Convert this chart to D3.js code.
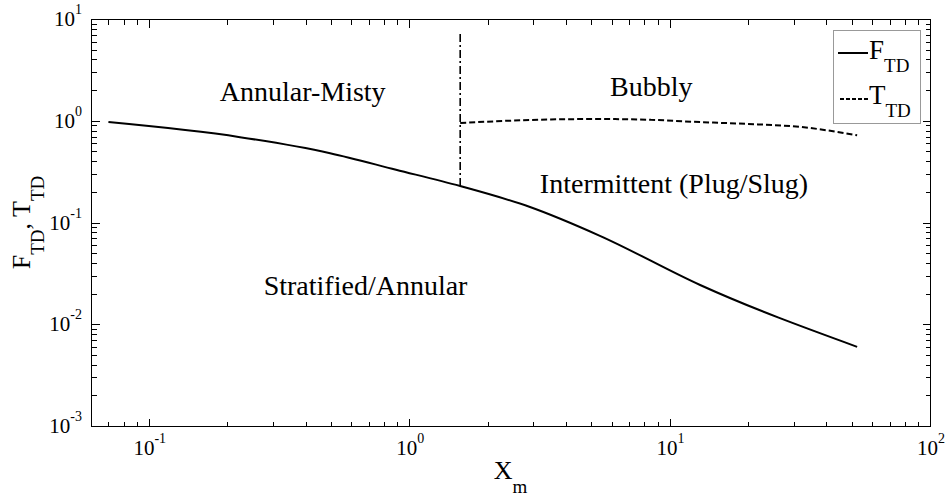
<!DOCTYPE html>
<html>
<head>
<meta charset="utf-8">
<script src="https://cdn.jsdelivr.net/npm/d3@7"></script>
<style>
  html, body { margin: 0; padding: 0; background: #fff; }
  svg { display: block; font-family: "Liberation Serif", "Times New Roman", serif; }
</style>
</head>
<body>
<svg id="chart" width="948" height="502"></svg>
<script>
// Flow-regime map: transition criteria F_TD and T_TD versus Martinelli parameter X_m
const fX = [0.07, 0.224, 0.497, 0.89, 1.57, 2.91, 5.4, 13.1, 52.5];
const fY = [0.97, 0.69, 0.48, 0.33, 0.228, 0.142, 0.074, 0.0243, 0.006];

const tX = [1.57, 2.4, 3.5, 5.4, 8.5, 13.1, 20, 31.7, 52.5];
const tY = [0.95, 1.0, 1.03, 1.04, 1.02, 0.97, 0.93, 0.87, 0.72];

// vertical boundary between annular-misty and bubbly regimes
const boundaryX = [1.57, 1.57];
const boundaryY = [0.228, 7.45];

const xDomain = [0.06, 100];
const yDomain = [0.001, 10];
const xMajor = [-1, 0, 1, 2];
const yMajor = [-3, -2, -1, 0, 1];

const regionLabels = [
  { text: "Annular-Misty", x: 0.39, y: 1.55 },
  { text: "Bubbly", x: 8.5, y: 1.77 },
  { text: "Intermittent (Plug/Slug)", x: 10.4, y: 0.195 },
  { text: "Stratified/Annular", x: 0.68, y: 0.0195 }
];

const svg = d3.select("#chart");
const m = { left: 91, right: 930, top: 19, bottom: 426 };

const x = d3.scaleLog().domain(xDomain).range([m.left, m.right]);
const y = d3.scaleLog().domain(yDomain).range([m.bottom, m.top]);

// minor tick positions (2..9 within each decade)
function minorTicks(domain) {
  const out = [];
  const lo = Math.floor(Math.log10(domain[0])), hi = Math.ceil(Math.log10(domain[1]));
  for (let e = lo; e < hi; e++) {
    for (let k = 2; k <= 9; k++) {
      const v = k * Math.pow(10, e);
      if (v > domain[0] && v < domain[1]) out.push(v);
    }
  }
  return out;
}
const xMinor = minorTicks(xDomain);
const yMinor = minorTicks(yDomain);

const axisG = svg.append("g").attr("stroke", "#000").attr("stroke-width", 1).attr("shape-rendering", "crispEdges");

// frame
axisG.append("rect")
  .attr("x", m.left + 0.5).attr("y", m.top + 0.5)
  .attr("width", m.right - m.left).attr("height", m.bottom - m.top)
  .attr("fill", "none");

const majLen = 8, minLen = 5;
const xTicks = xMajor.map(e => ({ v: Math.pow(10, e), len: majLen })).concat(xMinor.map(v => ({ v, len: minLen })));
const yTicks = yMajor.map(e => ({ v: Math.pow(10, e), len: majLen })).concat(yMinor.map(v => ({ v, len: minLen })));

xTicks.filter(t => t.v >= xDomain[0] && t.v <= xDomain[1]).forEach(t => {
  const px = Math.round(x(t.v)) + 0.5;
  axisG.append("line").attr("x1", px).attr("x2", px).attr("y1", m.bottom + 0.5).attr("y2", m.bottom + 0.5 - t.len);
  axisG.append("line").attr("x1", px).attr("x2", px).attr("y1", m.top + 0.5).attr("y2", m.top + 0.5 + t.len);
});
yTicks.forEach(t => {
  const py = Math.round(y(t.v)) + 0.5;
  axisG.append("line").attr("y1", py).attr("y2", py).attr("x1", m.left + 0.5).attr("x2", m.left + 0.5 + t.len);
  axisG.append("line").attr("y1", py).attr("y2", py).attr("x1", m.right + 0.5).attr("x2", m.right + 0.5 - t.len);
});

// tick labels as 10^n
function powLabel(g, e) {
  g.append("tspan").attr("font-size", 21).text("10");
  g.append("tspan").attr("font-size", 14).attr("dy", -12).text(e);
}
xMajor.forEach(e => {
  const t = svg.append("text").attr("x", x(Math.pow(10, e)) + 1).attr("y", 455)
    .attr("text-anchor", "middle").attr("fill", "#000");
  powLabel(t, e);
});
yMajor.forEach(e => {
  const t = svg.append("text").attr("x", 82).attr("y", y(Math.pow(10, e)) + 7)
    .attr("text-anchor", "end").attr("fill", "#000");
  powLabel(t, e);
});

// axis titles, centred on the plot area
const xl = svg.append("text").attr("x", (m.left + m.right) / 2).attr("y", 479)
  .attr("text-anchor", "middle").attr("font-size", 26);
xl.append("tspan").text("X");
xl.append("tspan").attr("font-size", 19).attr("dy", 14).text("m");

const yl = svg.append("text").attr("transform", `translate(30,${(m.top + m.bottom) / 2}) rotate(-90)`)
  .attr("text-anchor", "middle").attr("font-size", 26);
yl.append("tspan").text("F");
yl.append("tspan").attr("font-size", 19).attr("dy", 14).text("TD");
yl.append("tspan").attr("dy", -14).text(", T");
yl.append("tspan").attr("font-size", 19).attr("dy", 14).text("TD");

// curves
const line = d3.line().x(d => x(d[0])).y(d => y(d[1])).curve(d3.curveMonotoneX);
svg.append("path").datum(d3.zip(fX, fY)).attr("d", line)
  .attr("fill", "none").attr("stroke", "#000").attr("stroke-width", 2);
svg.append("path").datum(d3.zip(tX, tY)).attr("d", line)
  .attr("fill", "none").attr("stroke", "#000").attr("stroke-width", 2).attr("stroke-dasharray", "6,3");
const vline = d3.line().x(d => x(d[0])).y(d => y(d[1]));
svg.append("path").datum(d3.zip(boundaryX, boundaryY)).attr("d", vline)
  .attr("fill", "none").attr("stroke", "#000").attr("stroke-width", 1.6).attr("stroke-dasharray", "8,3,2,3");

// regime labels
regionLabels.forEach(r => {
  svg.append("text").attr("x", x(r.x)).attr("y", y(r.y))
    .attr("text-anchor", "middle").attr("font-size", 28).attr("fill", "#000").text(r.text);
});

// legend
const lg = svg.append("g");
lg.append("rect").attr("x", 833.5).attr("y", 30.5).attr("width", 87).attr("height", 93)
  .attr("fill", "#fff").attr("stroke", "#999").attr("stroke-width", 1);
lg.append("line").attr("x1", 838).attr("x2", 868).attr("y1", 53).attr("y2", 53)
  .attr("stroke", "#000").attr("stroke-width", 2);
lg.append("line").attr("x1", 840).attr("x2", 868).attr("y1", 99).attr("y2", 99)
  .attr("stroke", "#000").attr("stroke-width", 2).attr("stroke-dasharray", "4,2");
const l1 = lg.append("text").attr("x", 869).attr("y", 59).attr("font-size", 27);
l1.append("tspan").text("F");
l1.append("tspan").attr("font-size", 19).attr("dy", 13).text("TD");
const l2 = lg.append("text").attr("x", 869).attr("y", 104).attr("font-size", 27);
l2.append("tspan").text("T");
l2.append("tspan").attr("font-size", 19).attr("dy", 13).text("TD");
</script>
</body>
</html>
